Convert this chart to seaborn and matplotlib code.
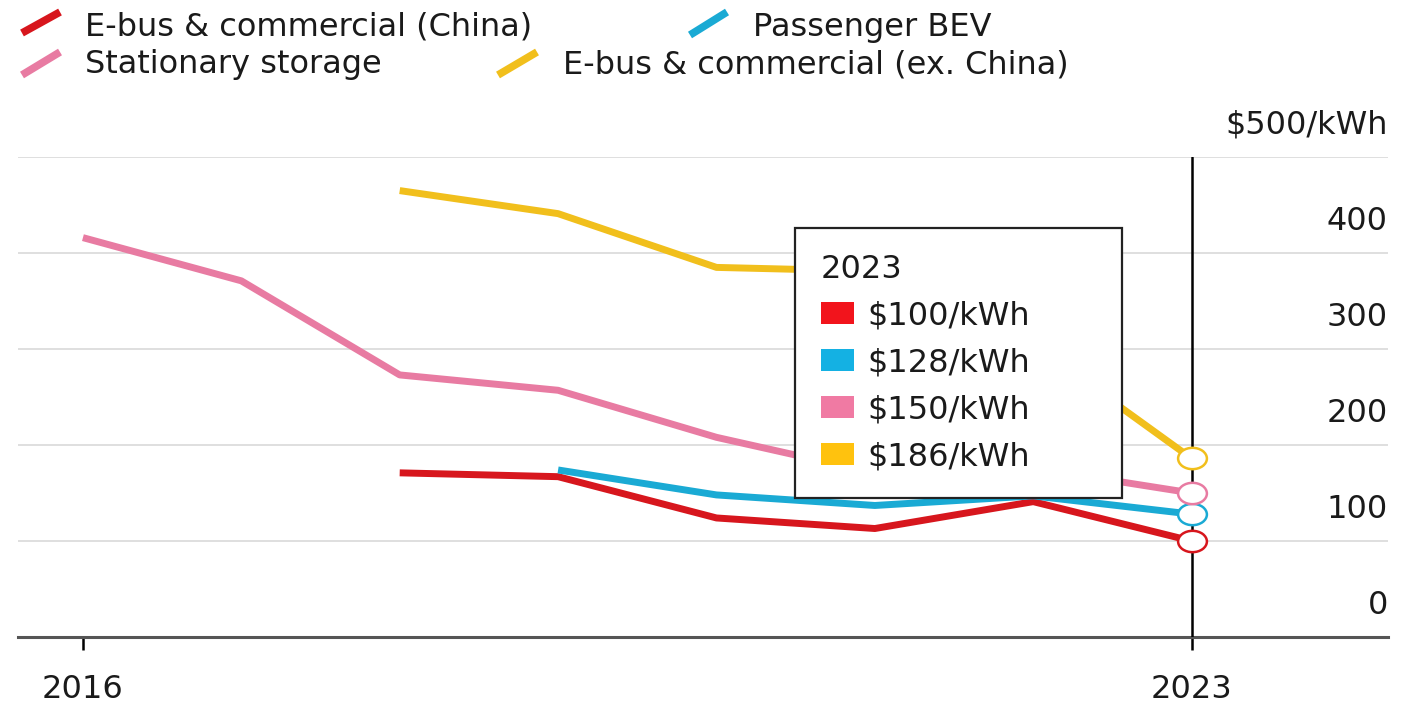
import numpy as np
import pandas as pd
import matplotlib
matplotlib.use("Agg")
import matplotlib.pyplot as plt
import seaborn as sns
from matplotlib.lines import Line2D
from matplotlib.patches import Patch
from matplotlib.path import Path
from matplotlib.transforms import ScaledTranslation

# Battery pack prices by segment, real $/kWh
years = [2016, 2017, 2018, 2019, 2020, 2021, 2022, 2023]
ebus_china = [np.nan, np.nan, 171, 167, 124, 113, 141, 100]
passenger_bev = [np.nan, np.nan, np.nan, 174, 148, 137, 147, 128]
stationary = [416, 371, 273, 257, 208, 171, 176, 150]
ebus_ex_china = [np.nan, np.nan, 465, 441, 385, 381, 305, 186]

series_names = ["E-bus & commercial (China)", "Passenger BEV",
                "Stationary storage", "E-bus & commercial (ex. China)"]
line_colors = ["#d7161d", "#1aaad4", "#e87ba2", "#f1bf1c"]
key_colors = ["#f2141c", "#14b1e3", "#f07aa3", "#ffc20e"]
price_labels_2023 = ["$100/kWh", "$128/kWh", "$150/kWh", "$186/kWh"]

ytick_values = [0, 100, 200, 300, 400, 500]
ytick_labels = ["0", "100", "200", "300", "400", "$500/kWh"]
xtick_values = [2016, 2023]
xtick_labels = ["2016", "2023"]

all_values = [ebus_china, passenger_bev, stationary, ebus_ex_china]
df = pd.DataFrame({
    "year": years * len(series_names),
    "price": np.concatenate(all_values),
    "series": np.repeat(series_names, len(years)),
}).dropna()

sns.set_theme(style="white")
plt.rcParams["font.family"] = ["DejaVu Sans"]
TXT = "#1a1a1a"
FS = 23

W, H = 1415, 705
fig = plt.figure(figsize=(W / 100, H / 100), dpi=100)
ax = fig.add_axes([18 / W, 1 - 637 / H, (1388 - 18) / W, (637 - 157) / H])

sns.lineplot(data=df, x="year", y="price", hue="series", hue_order=series_names,
             palette=line_colors, linewidth=5, legend=False, ax=ax,
             solid_capstyle="butt", zorder=3)

# Vertical marker for the latest year
ax.axvline(2023, color="black", lw=1.8, zorder=4)

# Open, slightly wide circles at the 2023 values
circ = Path.unit_circle()
ellipse = Path(circ.vertices * np.array([1.35, 1.0]), circ.codes)
for vals, col in zip(all_values, line_colors):
    ax.scatter([years[-1]], [vals[-1]], s=430, marker=ellipse, facecolor="white",
               edgecolor=col, linewidth=1.8, zorder=5)

ax.set_xlim(2015.59, 2024.24)
ax.set_ylim(0, 500)
ax.set_xlabel("")
ax.set_ylabel("")

for side in ["top", "left", "right"]:
    ax.spines[side].set_visible(False)
ax.spines["bottom"].set_color("#555555")
ax.spines["bottom"].set_linewidth(2.2)

ax.yaxis.grid(True, color="#dcdcdc", lw=1.3)
ax.xaxis.grid(False)

ax.set_xticks(xtick_values, xtick_labels)
ax.tick_params(axis="x", bottom=True, length=9.5, width=1.8, color="black",
               pad=17, labelsize=FS, labelcolor=TXT)

ax.set_yticks(ytick_values, ytick_labels)
ax.tick_params(axis="y", which="both", left=False, right=False, length=0,
               labelleft=False, labelright=True, pad=0, labelsize=FS, labelcolor=TXT)
for lbl in ax.get_yticklabels():
    lbl.set_horizontalalignment("right")
    lbl.set_verticalalignment("baseline")
    lbl.set_transform(lbl.get_transform() + ScaledTranslation(0, 23 / 100, fig.dpi_scale_trans))

# 2023 price box
handles = [Patch(facecolor=c, edgecolor="none") for c in key_colors]
leg = ax.legend(handles=handles, labels=price_labels_2023, title="2023",
                loc="upper left", bbox_to_anchor=(795 / W, 1 - 235 / H, (1122 - 795) / W, 0.01),
                bbox_transform=fig.transFigure, mode="expand", alignment="left",
                frameon=True, fancybox=False, framealpha=1, edgecolor="#222222",
                borderpad=0.8, borderaxespad=0, fontsize=FS, title_fontsize=FS,
                handlelength=1.05, handleheight=0.7, handletextpad=0.42,
                labelspacing=0.5)
leg.get_frame().set_linewidth(1.6)
leg.set_zorder(6)
for t in leg.get_texts():
    t.set_color(TXT)
leg.get_title().set_color(TXT)

# Series key across the top
key_items = [
    (series_names[0], line_colors[0], (22, 33, 60, 12), 85, 36),
    (series_names[1], line_colors[1], (690, 35, 727, 12), 753, 36),
    (series_names[2], line_colors[2], (22, 75, 60, 52), 85, 73),
    (series_names[3], line_colors[3], (498, 75, 537, 52), 563, 73),
]
for name, col, (x0, y0, x1, y1), tx, ty in key_items:
    fig.add_artist(Line2D([x0 / W, x1 / W], [1 - y0 / H, 1 - y1 / H],
                          transform=fig.transFigure, color=col, lw=5.5,
                          solid_capstyle="butt"))
    fig.text(tx / W, 1 - ty / H, name, ha="left", va="baseline",
             fontsize=FS, color=TXT)

fig.savefig("out.png", dpi=100)
